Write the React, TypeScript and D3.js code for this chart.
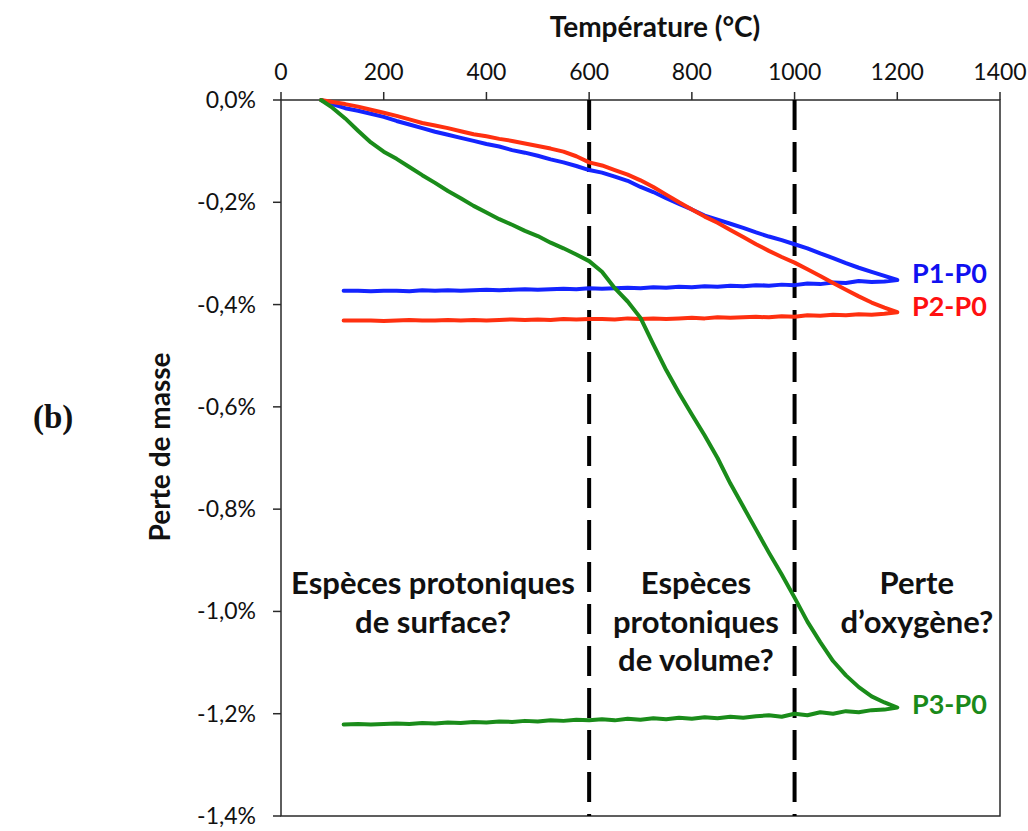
import React from "react";
import * as d3 from "d3";

// ---- data ----
const heatTemps = [78, 100, 125, 150, 175, 200, 225, 250, 275, 300, 325, 350, 375, 400, 425, 450, 475, 500, 525, 550, 575, 600, 625, 650, 675, 700, 725, 750, 775, 800, 825, 850, 875, 900, 925, 950, 975, 1000, 1025, 1050, 1075, 1100, 1125, 1150, 1175, 1200];
const coolTemps = [1200, 1175, 1150, 1125, 1100, 1075, 1050, 1025, 1000, 975, 950, 925, 900, 875, 850, 825, 800, 775, 750, 725, 700, 675, 650, 625, 600, 575, 550, 525, 500, 475, 450, 425, 400, 375, 350, 325, 300, 275, 250, 225, 200, 175, 150, 122];

const p1Heat = [0, -0.008, -0.016, -0.021, -0.027, -0.033, -0.041, -0.048, -0.055, -0.062, -0.068, -0.074, -0.080, -0.086, -0.091, -0.098, -0.103, -0.109, -0.116, -0.122, -0.129, -0.137, -0.142, -0.150, -0.158, -0.170, -0.180, -0.192, -0.203, -0.214, -0.226, -0.234, -0.242, -0.250, -0.259, -0.267, -0.274, -0.282, -0.290, -0.300, -0.309, -0.319, -0.328, -0.336, -0.344, -0.352];
const p1Cool = [-0.352, -0.355, -0.356, -0.354, -0.358, -0.357, -0.360, -0.359, -0.362, -0.361, -0.363, -0.362, -0.364, -0.363, -0.365, -0.364, -0.366, -0.365, -0.367, -0.366, -0.368, -0.367, -0.368, -0.369, -0.368, -0.370, -0.369, -0.370, -0.371, -0.370, -0.371, -0.372, -0.371, -0.372, -0.373, -0.372, -0.373, -0.372, -0.374, -0.373, -0.373, -0.374, -0.373, -0.373];

const p2Heat = [0, -0.004, -0.008, -0.013, -0.019, -0.025, -0.031, -0.038, -0.045, -0.050, -0.055, -0.061, -0.067, -0.071, -0.076, -0.080, -0.085, -0.090, -0.095, -0.101, -0.110, -0.122, -0.128, -0.137, -0.146, -0.157, -0.170, -0.185, -0.200, -0.214, -0.228, -0.240, -0.254, -0.268, -0.282, -0.295, -0.307, -0.318, -0.331, -0.344, -0.358, -0.371, -0.384, -0.396, -0.406, -0.415];
const p2Cool = [-0.415, -0.418, -0.420, -0.419, -0.421, -0.420, -0.422, -0.421, -0.424, -0.423, -0.425, -0.424, -0.425, -0.426, -0.425, -0.427, -0.426, -0.427, -0.428, -0.427, -0.428, -0.427, -0.429, -0.428, -0.428, -0.429, -0.428, -0.430, -0.429, -0.430, -0.429, -0.430, -0.431, -0.430, -0.431, -0.430, -0.431, -0.431, -0.430, -0.431, -0.432, -0.431, -0.431, -0.431];

const p3Heat = [0, -0.015, -0.036, -0.060, -0.083, -0.101, -0.115, -0.131, -0.147, -0.162, -0.178, -0.192, -0.207, -0.220, -0.233, -0.244, -0.256, -0.266, -0.279, -0.290, -0.302, -0.315, -0.336, -0.368, -0.394, -0.426, -0.478, -0.528, -0.573, -0.615, -0.656, -0.700, -0.750, -0.795, -0.840, -0.885, -0.928, -0.973, -1.020, -1.060, -1.097, -1.125, -1.148, -1.166, -1.178, -1.188];
const p3Cool = [-1.188, -1.192, -1.193, -1.197, -1.195, -1.200, -1.197, -1.203, -1.200, -1.206, -1.203, -1.205, -1.208, -1.206, -1.209, -1.207, -1.210, -1.208, -1.211, -1.209, -1.212, -1.210, -1.213, -1.211, -1.213, -1.212, -1.214, -1.213, -1.215, -1.214, -1.216, -1.215, -1.217, -1.216, -1.218, -1.217, -1.219, -1.218, -1.220, -1.219, -1.220, -1.221, -1.220, -1.221];

const xTicks = [0, 200, 400, 600, 800, 1000, 1200, 1400];
const yTicks = [0, -0.2, -0.4, -0.6, -0.8, -1.0, -1.2, -1.4];
const dashedTemps = [600, 1000];

const seriesNames = ["P1-P0", "P2-P0", "P3-P0"];
const seriesColors = ["#1424ff", "#ff3010", "#1a8c1a"];
const labelColors = ["#1010f0", "#ff1010", "#1a8a1a"];

const regionLabels = [
  { t: 296, lines: ["Espèces protoniques", "de surface?"] },
  { t: 808, lines: ["Espèces", "protoniques", "de volume?"] },
  { t: 1238, lines: ["Perte", "d\u2019oxygène?"] },
];

export default function App() {
  const W = 1028, H = 831;
  const x = d3.scaleLinear().domain([0, 1400]).range([281, 1000]);
  const y = d3.scaleLinear().domain([-1.4, 0]).range([816, 100]);
  const line = d3.line<[number, number]>().x(d => x(d[0])).y(d => y(d[1]));

  const series = [
    { heat: p1Heat, cool: p1Cool },
    { heat: p2Heat, cool: p2Cool },
    { heat: p3Heat, cool: p3Cool },
  ];

  const fmt = (v: number) => (Math.abs(v) < 1e-9 ? "0,0%" : v.toFixed(1).replace(".", ",") + "%");
  const font = "Lato, 'Open Sans', sans-serif";
  const axisColor = "#2a2a2a";
  const labelOffsets = [3, 4, 6];

  return (
    <svg width={W} height={H} style={{ position: "absolute", left: 0, top: 0, background: "#fff" }} fontFamily={font}>
      <rect x={0} y={0} width={W} height={H} fill="#fff" />
      {/* title */}
      <text x={655} y={37} textAnchor="middle" fontSize={28} fontWeight={700} fill="#111">Température (°C)</text>
      {/* y title */}
      <text transform={`translate(170,447) rotate(-90)`} textAnchor="middle" fontSize={28} fontWeight={700} fill="#111">Perte de masse</text>
      <text x={33} y={428} fontSize={33} fontWeight={700} fontFamily="'Liberation Serif', 'DejaVu Serif', serif" fill="#111">(b)</text>

      {/* frame */}
      <rect x={x(0)} y={y(0)} width={x(1400) - x(0)} height={y(-1.4) - y(0)} fill="none" stroke={axisColor} strokeWidth={1.5} />

      {/* top ticks */}
      {xTicks.map(t => (
        <g key={"xt" + t}>
          <line x1={x(t)} x2={x(t)} y1={y(0)} y2={y(0) - 8} stroke={axisColor} strokeWidth={1.5} />
          <text x={x(t)} y={80} textAnchor="middle" fontSize={23} fill="#111">{t}</text>
        </g>
      ))}
      {/* left ticks */}
      {yTicks.map(v => (
        <g key={"yt" + v}>
          <line x1={x(0) - 8} x2={x(0)} y1={y(v)} y2={y(v)} stroke={axisColor} strokeWidth={1.5} />
          <text x={256} y={y(v) + 8} textAnchor="end" fontSize={23} fill="#111">{fmt(v)}</text>
        </g>
      ))}

      {/* dashed region lines */}
      {dashedTemps.map(t => (
        <line key={"d" + t} x1={x(t)} x2={x(t)} y1={y(0)} y2={y(-1.4)} stroke="#000" strokeWidth={4} strokeDasharray="30 12" />
      ))}

      {/* region labels */}
      {regionLabels.map((r, i) => (
        <text key={"r" + i} textAnchor="middle" fontSize={31} fontWeight={700} fill="#111">
          {r.lines.map((l, j) => (
            <tspan key={j} x={x(r.t)} y={594 + j * 38.5}>{l}</tspan>
          ))}
        </text>
      ))}

      {/* curves */}
      {series.map((s, i) => {
        const pts: [number, number][] = heatTemps.map((t, k) => [t, s.heat[k]] as [number, number])
          .concat(coolTemps.map((t, k) => [t, s.cool[k]] as [number, number]));
        return <path key={"s" + i} d={line(pts) || ""} fill="none" stroke={seriesColors[i]} strokeWidth={4} strokeLinejoin="round" strokeLinecap="round" />;
      })}

      {/* series labels */}
      {seriesNames.map((n, i) => {
        const v = series[i].heat[series[i].heat.length - 1];
        return (
          <text key={"l" + i} x={912} y={y(v) + labelOffsets[i]} fontSize={27} fontWeight={700} fill={labelColors[i]}>{n}</text>
        );
      })}
    </svg>
  );
}
